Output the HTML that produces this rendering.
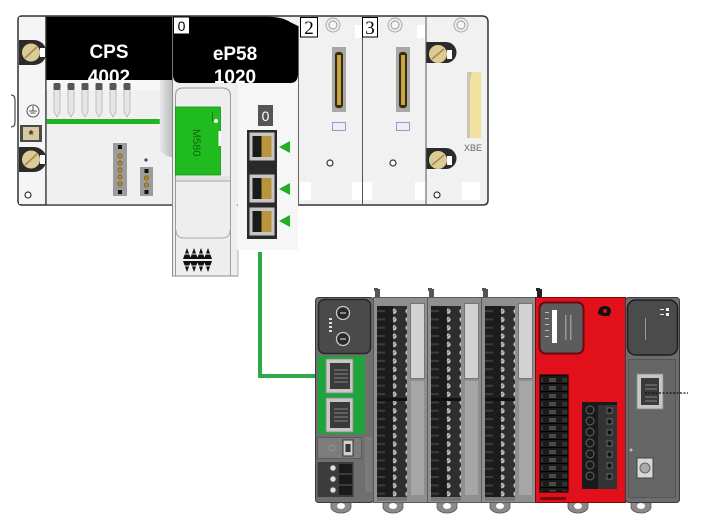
<!DOCTYPE html>
<html><head><meta charset="utf-8"><style>
html,body{margin:0;padding:0;background:#fff;width:703px;height:526px;overflow:hidden}
svg{display:block}
text{font-family:"Liberation Sans",sans-serif}
</style></head><body>
<svg width="703" height="526" viewBox="0 0 703 526" xmlns="http://www.w3.org/2000/svg">
<defs>
 <pattern id="scr" width="14" height="8.3" patternUnits="userSpaceOnUse">
  <rect width="14" height="8.3" fill="#2e2e2e"/>
  <circle cx="7" cy="4.1" r="2.6" fill="#c4c4c4"/>
  <line x1="5.6" y1="5.5" x2="8.4" y2="2.7" stroke="#666" stroke-width="0.8"/>
 </pattern>
 <pattern id="lab" width="15" height="8.3" patternUnits="userSpaceOnUse">
  <rect width="15" height="8.3" fill="#1c1c1c"/>
  <rect x="4" y="3" width="8" height="2" fill="#3c3c3c"/>
 </pattern>
 <pattern id="rtb" width="28" height="8" patternUnits="userSpaceOnUse">
  <rect width="28" height="8" fill="#1a1a1a"/>
  <rect x="2" y="2" width="9" height="4" fill="#333"/>
  <rect x="17" y="2" width="7" height="4" fill="#4a4a4a"/>
  <line x1="0" y1="7.5" x2="28" y2="7.5" stroke="#000" stroke-width="1"/>
 </pattern>
 <linearGradient id="shad" x1="0" y1="0" x2="1" y2="0">
  <stop offset="0" stop-color="#e8e8e8"/><stop offset="1" stop-color="#bdbdbd"/>
 </linearGradient>
</defs>

<!-- ================= TOP RACK ================= -->
<path d="M22 16 H482 Q488 16 488 22 V200 Q488 205 483 205 H22 Q18 205 18 201 V20 Q18 16 22 16 Z" fill="#f1f1f1" stroke="#333" stroke-width="1.5"/>

<!-- CPS left column -->
<rect x="19" y="17" width="27" height="187" fill="#f5f5f5"/>
<line x1="46" y1="16" x2="46" y2="205" stroke="#333" stroke-width="1.5"/>
<!-- screw 1 -->
<path d="M19 40 H34 A12.5 12.5 0 0 1 34 65 H19 Z" fill="#2b2b2b"/>
<circle cx="31" cy="52.5" r="9" fill="#dccb95"/>
<line x1="25" y1="58" x2="37" y2="47" stroke="#a48c52" stroke-width="1.6"/>
<rect x="40" y="48" width="5" height="9" fill="#fff"/>
<!-- ground -->
<circle cx="33" cy="111" r="6" fill="#fafafa" stroke="#555" stroke-width="1"/>
<line x1="33" y1="106" x2="33" y2="111" stroke="#555" stroke-width="1"/>
<line x1="29" y1="111" x2="37" y2="111" stroke="#555" stroke-width="1"/>
<line x1="30.5" y1="113" x2="35.5" y2="113" stroke="#555" stroke-width="1"/>
<!-- bracket -->
<path d="M11 95 Q15 95 15 100 V122 Q15 127 11 127" fill="none" stroke="#222" stroke-width="1"/>
<!-- asterisk box -->
<rect x="20" y="125" width="22" height="17" fill="#4a4a4a"/>
<rect x="23" y="127" width="16" height="13" fill="#d9c9a0"/>
<text x="31" y="139" font-size="13" font-weight="bold" fill="#333" text-anchor="middle">*</text>
<!-- screw 2 -->
<path d="M19 147 H34 A12.5 12.5 0 0 1 34 172 H19 Z" fill="#2b2b2b"/>
<circle cx="31" cy="159.5" r="9" fill="#dccb95"/>
<line x1="25" y1="165" x2="37" y2="154" stroke="#a48c52" stroke-width="1.6"/>
<rect x="40" y="155" width="5" height="9" fill="#fff"/>
<circle cx="28" cy="195" r="3" fill="#fff" stroke="#333" stroke-width="1.2"/>

<!-- CPS header -->
<rect x="46.5" y="16.75" width="126" height="64" fill="#000"/>
<text x="109" y="58" font-size="19" font-weight="bold" fill="#fff" text-anchor="middle">CPS</text>
<text x="109" y="83" font-size="19" font-weight="bold" fill="#fff" text-anchor="middle">4002</text>
<!-- CPS body -->
<rect x="46.75" y="80" width="125.5" height="124.25" fill="#f0f0f0"/>
<rect x="46.75" y="80" width="113" height="10" fill="#f7f7f7"/>
<!-- pegs -->
<g fill="#e6e6e6" stroke="#b5b5b5" stroke-width="0.8">
 <path d="M54 89 h6 v23 l-3 5 l-3 -5 z"/>
 <path d="M68 89 h6 v23 l-3 5 l-3 -5 z"/>
 <path d="M82 89 h6 v23 l-3 5 l-3 -5 z"/>
 <path d="M96 89 h6 v23 l-3 5 l-3 -5 z"/>
 <path d="M110 89 h6 v23 l-3 5 l-3 -5 z"/>
 <path d="M124 89 h6 v23 l-3 5 l-3 -5 z"/>
</g>
<g fill="#555">
 <rect x="53.5" y="83" width="7" height="7" rx="1.5"/>
 <rect x="67.5" y="83" width="7" height="7" rx="1.5"/>
 <rect x="81.5" y="83" width="7" height="7" rx="1.5"/>
 <rect x="95.5" y="83" width="7" height="7" rx="1.5"/>
 <rect x="109.5" y="83" width="7" height="7" rx="1.5"/>
 <rect x="123.5" y="83" width="7" height="7" rx="1.5"/>
</g>
<rect x="46.75" y="119" width="113" height="5" fill="#22b322"/>
<!-- shadow bar -->
<path d="M160 80 H172 V157 Q166 157 160 150 Z" fill="url(#shad)"/>
<!-- connectors -->
<rect x="113" y="143" width="14" height="53" fill="#9c9c9c"/>
<rect x="118" y="145" width="4" height="4" fill="#111"/>
<rect x="118" y="190" width="4" height="4" fill="#111"/>
<g fill="#b08a30" stroke="#6a5418" stroke-width="0.6">
 <circle cx="120" cy="156" r="2.2"/><circle cx="120" cy="163" r="2.2"/><circle cx="120" cy="170" r="2.2"/><circle cx="120" cy="177" r="2.2"/><circle cx="120" cy="184" r="2.2"/>
</g>
<rect x="140" y="167" width="13" height="29" fill="#9c9c9c"/>
<rect x="144.5" y="169" width="4" height="4" fill="#111"/>
<rect x="144.5" y="190" width="4" height="4" fill="#111"/>
<g fill="#b08a30" stroke="#6a5418" stroke-width="0.6">
 <circle cx="146.5" cy="178" r="2.2"/><circle cx="146.5" cy="185" r="2.2"/>
</g>
<circle cx="146" cy="160" r="1.6" fill="#334488"/>

<!-- ================= CPU MODULE ================= -->
<rect x="238" y="80" width="60" height="170" fill="#f6f6f6"/>
<path d="M172.5 80 V276 H238 V250" fill="#eeeeee" stroke="#8a8a8a" stroke-width="1"/>
<rect x="173" y="80" width="64.5" height="195.5" fill="#eeeeee"/>
<line x1="172.5" y1="80" x2="172.5" y2="276" stroke="#8a8a8a" stroke-width="1"/>
<line x1="172.5" y1="276" x2="238" y2="276" stroke="#8a8a8a" stroke-width="1"/>
<line x1="238" y1="250" x2="238" y2="276" stroke="#b0b0b0" stroke-width="1"/>
<line x1="230.5" y1="96" x2="230.5" y2="276" stroke="#a0a0a0" stroke-width="1"/>
<!-- slot outline -->
<path d="M175.5 276 V96 Q175.5 88 183 88 H222 Q230.5 88 230.5 96" fill="none" stroke="#9a9a9a" stroke-width="1"/>
<!-- green card -->
<rect x="175.5" y="107" width="45" height="68" fill="#1fbb1f" stroke="#179117" stroke-width="0.8"/>
<line x1="212.5" y1="112" x2="212.5" y2="121" stroke="#0e6a0e" stroke-width="0.8"/>
<circle cx="216" cy="121" r="2" fill="#fff"/>
<rect x="218.5" y="131" width="2.5" height="15" fill="#fff"/>
<text x="0" y="0" font-size="11" fill="#0d6a0d" transform="translate(193,129) rotate(90)">M580</text>
<rect x="176" y="176" width="54" height="5" fill="#e2e2e2"/>
<line x1="176" y1="181" x2="230" y2="181" stroke="#a8a8a8" stroke-width="1"/>
<path d="M176 230 Q176 238 184 238 H222 Q230 238 230 230" fill="none" stroke="#a8a8a8" stroke-width="1"/>
<!-- AAA/VVV icon -->
<g fill="#111">
 <polygon points="183,259 187,248 191,259"/><polygon points="190,259 194,248 198,259"/><polygon points="197,259 201,248 205,259"/><polygon points="204,259 208,248 212,259"/>
 <polygon points="183,261 187,272 191,261"/><polygon points="190,261 194,272 198,261"/><polygon points="197,261 201,272 205,261"/><polygon points="204,261 208,272 212,261"/>
</g>
<line x1="183" y1="254" x2="212" y2="254" stroke="#eee" stroke-width="1"/>
<line x1="183" y1="266" x2="212" y2="266" stroke="#eee" stroke-width="1"/>

<!-- CPU header -->
<path d="M173 16.75 H268 Q282 16.75 290 22 L298 26 V74 Q298 83 290 83 H181 Q173 83 173 75 Z" fill="#000"/>
<rect x="173.5" y="17" width="16" height="17" fill="#fff" stroke="#000" stroke-width="1"/>
<text x="181.5" y="31" font-size="14" fill="#000" text-anchor="middle">0</text>
<text x="235" y="60" font-size="19" font-weight="bold" fill="#fff" text-anchor="middle">eP58</text>
<text x="235" y="83" font-size="19" font-weight="bold" fill="#fff" text-anchor="middle">1020</text>

<!-- port block -->
<rect x="258" y="105" width="15" height="21" fill="#555"/>
<text x="265.5" y="121" font-size="14" fill="#fff" text-anchor="middle">0</text>
<rect x="247" y="130" width="30" height="109" fill="#2a2a2a"/>
<g>
 <rect x="249.5" y="132.5" width="25" height="28" fill="#c6c6c6"/>
 <rect x="252.5" y="136" width="9" height="21" fill="#1a1a1a"/>
 <rect x="261.5" y="136" width="10" height="21" fill="#b8953a"/>
 <rect x="249.5" y="174.5" width="25" height="28" fill="#c6c6c6"/>
 <rect x="252.5" y="178" width="9" height="21" fill="#1a1a1a"/>
 <rect x="261.5" y="178" width="10" height="21" fill="#b8953a"/>
 <rect x="249.5" y="207.5" width="25" height="28" fill="#c6c6c6"/>
 <rect x="252.5" y="211" width="9" height="21" fill="#1a1a1a"/>
 <rect x="261.5" y="211" width="10" height="21" fill="#b8953a"/>
</g>
<g fill="#22b022">
 <polygon points="279,147 290,141 290,153"/>
 <polygon points="279,189 290,183 290,195"/>
 <polygon points="279,221 290,215 290,227"/>
</g>

<!-- ================= SLOT 2 ================= -->
<line x1="298.5" y1="26" x2="298.5" y2="205" stroke="#666" stroke-width="1"/>
<rect x="300" y="182" width="11" height="18" fill="#fff"/>
<rect x="352" y="182" width="20" height="18" fill="#fff"/>
<rect x="300.5" y="17.5" width="17" height="19.5" fill="#fff" stroke="#000" stroke-width="1"/>
<text x="309" y="34" font-size="19" fill="#000" text-anchor="middle" style="font-family:'Liberation Serif',serif">2</text>
<circle cx="333" cy="25" r="7" fill="#eee" stroke="#aaa" stroke-width="1"/>
<circle cx="333" cy="25" r="4" fill="#f6f6f6" stroke="#999" stroke-width="1"/>
<rect x="355" y="25" width="7" height="13" fill="#fff"/>
<rect x="332" y="47" width="14" height="65" fill="#a8a8a8"/>
<rect x="335" y="52" width="8" height="56" rx="3" fill="#3a2a10"/>
<rect x="337" y="55" width="4" height="50" fill="#c9a540"/>
<rect x="332.5" y="122.5" width="13" height="8" fill="#eeeef8" stroke="#9a9ac0" stroke-width="1"/>
<circle cx="330" cy="163" r="3" fill="#fff" stroke="#333" stroke-width="1.2"/>

<!-- ================= SLOT 3 ================= -->
<line x1="362.5" y1="16" x2="362.5" y2="205" stroke="#555" stroke-width="1"/>
<rect x="415" y="182" width="11" height="18" fill="#fff"/>
<rect x="362.5" y="17.5" width="15" height="19.5" fill="#fff" stroke="#000" stroke-width="1"/>
<text x="370" y="34" font-size="19" fill="#000" text-anchor="middle" style="font-family:'Liberation Serif',serif">3</text>
<circle cx="395" cy="25" r="7" fill="#eee" stroke="#aaa" stroke-width="1"/>
<circle cx="395" cy="25" r="4" fill="#f6f6f6" stroke="#999" stroke-width="1"/>
<rect x="417" y="25" width="8" height="13" fill="#fff"/>
<rect x="396" y="47" width="14" height="65" fill="#a8a8a8"/>
<rect x="399" y="52" width="8" height="56" rx="3" fill="#3a2a10"/>
<rect x="401" y="55" width="4" height="50" fill="#c9a540"/>
<rect x="396.5" y="122.5" width="13" height="8" fill="#eeeef8" stroke="#9a9ac0" stroke-width="1"/>
<circle cx="393" cy="163" r="3" fill="#fff" stroke="#333" stroke-width="1.2"/>

<!-- ================= XBE ================= -->
<line x1="426" y1="16" x2="426" y2="205" stroke="#555" stroke-width="1"/>
<circle cx="461" cy="25" r="7" fill="#eee" stroke="#aaa" stroke-width="1"/>
<circle cx="461" cy="25" r="4" fill="#f6f6f6" stroke="#999" stroke-width="1"/>
<path d="M426.5 42 H446 A10.5 10.5 0 0 1 446 63 H426.5 Z" fill="#2b2b2b"/>
<circle cx="438" cy="54" r="9" fill="#dccb95"/>
<line x1="432" y1="59" x2="444" y2="49" stroke="#a48c52" stroke-width="1.6"/>
<rect x="447" y="50" width="5" height="9" fill="#fff"/>
<path d="M426.5 148 H446 A10.5 10.5 0 0 1 446 169 H426.5 Z" fill="#2b2b2b"/>
<circle cx="438" cy="160" r="9" fill="#dccb95"/>
<line x1="432" y1="165" x2="444" y2="155" stroke="#a48c52" stroke-width="1.6"/>
<rect x="447" y="156" width="5" height="9" fill="#fff"/>
<rect x="467" y="72" width="14" height="66" fill="#f1e19e"/>
<path d="M467 72 H472 L470 80 V138 H467 Z" fill="#c9c6b2"/>
<text x="473" y="151" font-size="9" fill="#666" text-anchor="middle">XBE</text>
<rect x="462" y="182" width="18" height="18" fill="#fff"/>
<circle cx="437" cy="195" r="3" fill="#fff" stroke="#333" stroke-width="1.2"/>

<!-- ================= GREEN CABLE ================= -->
<path d="M260 252 V376 H343" fill="none" stroke="#2fa84a" stroke-width="4"/>

<!-- ================= BOTTOM PLC ================= -->
<!-- feet -->
<g fill="#8a8a8a" stroke="#555" stroke-width="0.8">
 <path d="M331 500 h20 v7 a10 6 0 0 1 -20 0 z"/>
 <path d="M383 500 h20 v7 a10 6 0 0 1 -20 0 z"/>
 <path d="M437 500 h20 v7 a10 6 0 0 1 -20 0 z"/>
 <path d="M490 500 h20 v7 a10 6 0 0 1 -20 0 z"/>
 <path d="M568 500 h20 v7 a10 6 0 0 1 -20 0 z"/>
 <path d="M631 500 h20 v7 a10 6 0 0 1 -20 0 z"/>
</g>
<g fill="#fff">
 <ellipse cx="341" cy="506" rx="4" ry="3"/><ellipse cx="393" cy="506" rx="4" ry="3"/><ellipse cx="447" cy="506" rx="4" ry="3"/>
 <ellipse cx="500" cy="506" rx="4" ry="3"/><ellipse cx="578" cy="506" rx="4" ry="3"/><ellipse cx="641" cy="506" rx="4" ry="3"/>
</g>
<!-- tabs -->
<g fill="#555">
 <rect x="375" y="289" width="5" height="9"/><rect x="374" y="288" width="4" height="3"/>
 <rect x="429" y="289" width="5" height="9"/><rect x="428" y="288" width="4" height="3"/>
 <rect x="483" y="289" width="5" height="9"/><rect x="482" y="288" width="4" height="3"/>
 <rect x="537" y="289" width="5" height="9" fill="#222"/><rect x="536" y="288" width="4" height="3" fill="#222"/>
</g>

<!-- CPU module -->
<rect x="315.5" y="297.5" width="58" height="205" rx="3" fill="#6f6f6f" stroke="#3a3a3a" stroke-width="1"/>
<rect x="318.5" y="299.5" width="52" height="54" rx="6" fill="#4a4a4a" stroke="#262626" stroke-width="1.5"/>
<circle cx="343" cy="313" r="6.5" fill="#2a2a2a" stroke="#ccc" stroke-width="1.3"/>
<line x1="340" y1="313" x2="346" y2="313" stroke="#ccc" stroke-width="1.2"/>
<circle cx="343" cy="339" r="6.5" fill="#2a2a2a" stroke="#ccc" stroke-width="1.3"/>
<line x1="340" y1="339" x2="346" y2="339" stroke="#ccc" stroke-width="1.2"/>
<g fill="#ddd"><rect x="329" y="318" width="3" height="2"/><rect x="329" y="322" width="3" height="2"/><rect x="329" y="326" width="3" height="2"/><rect x="329" y="330" width="3" height="2"/></g>
<rect x="318" y="356" width="47" height="78" fill="#1ea43a"/>
<rect x="326" y="359" width="27" height="34" fill="#c6c6c6" stroke="#888" stroke-width="0.8"/>
<rect x="330" y="363" width="20" height="26" fill="#3a3a3a"/>
<g stroke="#999" stroke-width="0.8"><line x1="334" y1="370" x2="348" y2="370"/><line x1="334" y1="374" x2="348" y2="374"/><line x1="334" y1="378" x2="348" y2="378"/><line x1="334" y1="382" x2="348" y2="382"/></g>
<rect x="326" y="398" width="27" height="34" fill="#c6c6c6" stroke="#888" stroke-width="0.8"/>
<rect x="330" y="402" width="20" height="26" fill="#3a3a3a"/>
<g stroke="#999" stroke-width="0.8"><line x1="334" y1="409" x2="348" y2="409"/><line x1="334" y1="413" x2="348" y2="413"/><line x1="334" y1="417" x2="348" y2="417"/><line x1="334" y1="421" x2="348" y2="421"/></g>
<rect x="317.5" y="437.5" width="44" height="21" fill="#7c7c7c" stroke="#5a5a5a" stroke-width="1"/>
<circle cx="332" cy="448" r="3" fill="none" stroke="#999" stroke-width="0.8"/>
<rect x="343" y="440" width="10" height="16" fill="#cfcfcf" stroke="#333" stroke-width="1"/>
<rect x="345.5" y="444" width="5" height="8" fill="#333"/>
<rect x="317.5" y="462" width="36" height="35" fill="#3c3c3c"/>
<g fill="#e0e0e0" stroke="#555" stroke-width="0.8"><circle cx="333" cy="468" r="3"/><circle cx="333" cy="479" r="3"/><circle cx="333" cy="490" r="3"/></g>
<g fill="#1a1a1a"><rect x="339" y="464" width="13" height="9"/><rect x="339" y="475" width="13" height="9"/><rect x="339" y="486" width="13" height="9"/></g>
<rect x="365" y="437" width="7" height="55" fill="#7a7a7a"/>

<!-- IO module 1 -->
<g transform="translate(373,0)">
 <rect x="0.5" y="297.5" width="54" height="205" fill="#8f8f8f" stroke="#5a5a5a" stroke-width="1"/>
 <rect x="4" y="306" width="16" height="192" fill="url(#lab)"/>
 <rect x="20" y="306" width="14" height="192" fill="url(#scr)"/>
 <rect x="4" y="398" width="30" height="3" fill="#111"/>
 <rect x="37.5" y="303.5" width="14" height="75" fill="#d2d2d2" stroke="#666" stroke-width="0.8"/>
 <rect x="38" y="381" width="13" height="114" fill="#a6a6a6"/>
 <rect x="4" y="497" width="30" height="4" fill="#777"/>
</g>
<!-- IO module 2 -->
<g transform="translate(427,0)">
 <rect x="0.5" y="297.5" width="54" height="205" fill="#8f8f8f" stroke="#5a5a5a" stroke-width="1"/>
 <rect x="4" y="306" width="16" height="192" fill="url(#lab)"/>
 <rect x="20" y="306" width="14" height="192" fill="url(#scr)"/>
 <rect x="4" y="398" width="30" height="3" fill="#111"/>
 <rect x="37.5" y="303.5" width="14" height="75" fill="#d2d2d2" stroke="#666" stroke-width="0.8"/>
 <rect x="38" y="381" width="13" height="114" fill="#a6a6a6"/>
 <rect x="4" y="497" width="30" height="4" fill="#777"/>
</g>
<!-- IO module 3 -->
<g transform="translate(481,0)">
 <rect x="0.5" y="297.5" width="54" height="205" fill="#8f8f8f" stroke="#5a5a5a" stroke-width="1"/>
 <rect x="4" y="306" width="16" height="192" fill="url(#lab)"/>
 <rect x="20" y="306" width="14" height="192" fill="url(#scr)"/>
 <rect x="4" y="398" width="30" height="3" fill="#111"/>
 <rect x="37.5" y="303.5" width="14" height="75" fill="#d2d2d2" stroke="#666" stroke-width="0.8"/>
 <rect x="38" y="381" width="13" height="114" fill="#a6a6a6"/>
 <rect x="4" y="497" width="30" height="4" fill="#777"/>
</g>

<!-- red module -->
<rect x="535.5" y="297.5" width="90" height="205" fill="#e2101b" stroke="#7a0a10" stroke-width="1"/>
<rect x="539.5" y="302.5" width="44" height="51" rx="6" fill="#5c5c5c" stroke="#6a0a0e" stroke-width="2"/>
<rect x="552" y="310" width="5" height="33" fill="#fff"/>
<g fill="#bbb"><rect x="545" y="312" width="4" height="1"/><rect x="545" y="318" width="4" height="1"/><rect x="545" y="324" width="4" height="1"/><rect x="545" y="330" width="4" height="1"/><rect x="545" y="336" width="4" height="1"/></g>
<rect x="565" y="315" width="1.5" height="25" fill="#999"/><rect x="570" y="315" width="1.5" height="25" fill="#999"/>
<path d="M598 314 Q598 306 605 306 Q611 306 611 312 L609 316 H603 Z" fill="#111"/>
<circle cx="605" cy="311" r="2" fill="#e2101b"/>
<rect x="540" y="375" width="28" height="117" fill="url(#rtb)"/>
<rect x="540" y="375" width="28" height="117" fill="none" stroke="#000" stroke-width="1"/>
<rect x="582" y="402" width="35" height="87" fill="#1a1a1a"/>
<rect x="598" y="405" width="19" height="84" fill="#333"/>
<g fill="#1a1a1a" stroke="#666" stroke-width="1">
 <circle cx="590" cy="410" r="4"/><circle cx="590" cy="421" r="4"/><circle cx="590" cy="432" r="4"/><circle cx="590" cy="443" r="4"/><circle cx="590" cy="454" r="4"/><circle cx="590" cy="465" r="4"/><circle cx="590" cy="476" r="4"/>
</g>
<g fill="#111" stroke="#777" stroke-width="0.8">
 <rect x="607" y="408" width="5" height="5"/><rect x="607" y="419" width="5" height="5"/><rect x="607" y="430" width="5" height="5"/><rect x="607" y="441" width="5" height="5"/><rect x="607" y="452" width="5" height="5"/><rect x="607" y="463" width="5" height="5"/><rect x="607" y="474" width="5" height="5"/>
</g>
<rect x="540" y="497" width="26" height="3" fill="#7a0a10"/>

<!-- right module -->
<rect x="625.5" y="297.5" width="54" height="205" rx="3" fill="#6d6d6d" stroke="#3a3a3a" stroke-width="1"/>
<rect x="627.5" y="300" width="50" height="55" rx="8" fill="#4b4b4b" stroke="#1e1e1e" stroke-width="1.5"/>
<g fill="#eee"><rect x="666" y="308" width="3" height="3"/><rect x="666" y="313" width="3" height="3"/><rect x="660" y="309" width="4" height="1"/><rect x="660" y="314" width="4" height="1"/></g>
<rect x="645" y="318" width="1" height="22" fill="#999"/>
<rect x="628.5" y="359.5" width="47" height="138" fill="#666" stroke="#555" stroke-width="1"/>
<rect x="637" y="374" width="26" height="35" fill="#c6c6c6" stroke="#888" stroke-width="0.8"/>
<rect x="641" y="378" width="18" height="27" fill="#3a3a3a"/>
<g stroke="#999" stroke-width="0.8"><line x1="645" y1="385" x2="657" y2="385"/><line x1="645" y1="389" x2="657" y2="389"/><line x1="645" y1="397" x2="657" y2="397"/><line x1="645" y1="401" x2="657" y2="401"/></g>
<rect x="637" y="458" width="16" height="20" fill="#d8d8d8" stroke="#444" stroke-width="1"/>
<circle cx="645" cy="468" r="5" fill="#aaa" stroke="#666" stroke-width="1"/>
<circle cx="631" cy="450" r="1.5" fill="#bbb"/>
<line x1="645" y1="393" x2="688" y2="393" stroke="#111" stroke-width="1.2" stroke-dasharray="2,1.5"/>
</svg>
</body></html>
